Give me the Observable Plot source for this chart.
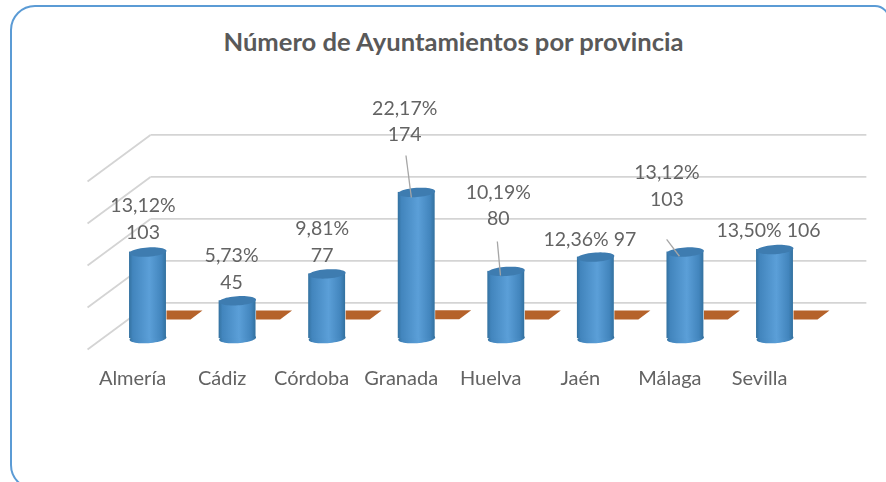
<!DOCTYPE html>
<html lang="es">
<head>
<meta charset="utf-8">
<title>Número de Ayuntamientos por provincia</title>
<script src="https://cdn.jsdelivr.net/npm/d3@7"></script>
<script src="https://cdn.jsdelivr.net/npm/@observablehq/plot@0.6"></script>
<style>
  html, body { margin: 0; padding: 0; background: #fff; overflow: hidden; }
  #page { position: relative; width: 886px; height: 482px; overflow: hidden; }
  #frame { position: absolute; left: 10px; top: 5px; width: 880px; height: 485px; box-sizing: border-box;
           border: 2px solid #5b9bd5; border-radius: 25px 15px 0 25px; }
  #title { position: absolute; left: 0; top: 26px; width: 907px; text-align: center; font: 700 25.6px Lato, sans-serif; color: #595959; }
  #chart { position: absolute; left: 0; top: 0; }
  #chart svg { display: block; filter: blur(0.45px); }
</style>
</head>
<body>
<div id="page">
  <div id="frame"></div>
  <div id="chart"></div>
  <div id="title">Número de Ayuntamientos por provincia</div>
</div>
<script>
const categories = ["Almería", "Cádiz", "Córdoba", "Granada", "Huelva", "Jaén", "Málaga", "Sevilla"];
const counts = [103, 45, 77, 174, 80, 97, 103, 106];
const shares = [13.12, 5.73, 9.81, 22.17, 10.19, 12.36, 13.12, 13.50];
const gridValues = [0, 50, 100, 150, 200];

// placement of each data label relative to the top of its bar, in pixels
const labelOffsets = [[-5, -35], [-6, -34], [-5, -34], [-12, -73], [-8, -68], [-6, -20], [-18.5, -68], [-6.5, -21]];
const labelTwoLines = [true, true, true, true, true, false, true, false];
// leader lines relative to the bar top (index units, value units)
const leaders = [
  {i: 3, dx1: -0.12, dy1: 44, dx2: -0.06, dy2: -6},
  {i: 4, dx1: -0.10, dy1: 35.6, dx2: -0.065, dy2: -4.9},
  {i: 6, dx1: -0.21, dy1: 15, dx2: -0.067, dy2: -5}
];

// chart geometry in data units
const depthX = 0.703, depthY = 55.4;      // offset from the front to the back plane
const frontX = -0.675, backEndX = 8.02;   // extent of the floor and walls
const baseY = 13;                         // bars stand mid-way across the floor
const halfBar = 0.206;

const rows = categories.map((name, i) => ({name, i, count: counts[i], share: shares[i]}));

// tilted ellipse, drawn as a symbol so it sits on the scaled position
const ellipse = {
  draw(ctx) {
    const rx = 18.5, ry = 4.6, t = -0.065;
    for (let k = 0; k <= 48; ++k) {
      const a = k / 48 * 2 * Math.PI, x = rx * Math.cos(a), y = ry * Math.sin(a);
      const px = x * Math.cos(t) - y * Math.sin(t), py = x * Math.sin(t) + y * Math.cos(t);
      k ? ctx.lineTo(px, py) : ctx.moveTo(px, py);
    }
    ctx.closePath();
  }
};
// the flat second series, seen as a parallelogram on the floor
const flat = {
  draw(ctx) {
    ctx.moveTo(-18, -4.5); ctx.lineTo(18, -4.5); ctx.lineTo(6, 4.5); ctx.lineTo(-18, 4.5); ctx.closePath();
  }
};

const defs = () => {
  const d = d3.create("svg:defs");
  const g = d.append("linearGradient").attr("id", "cyl").attr("x1", 0).attr("x2", 1).attr("y1", 0).attr("y2", 0);
  [[0, "#33719f"], [0.1, "#4285bd"], [0.55, "#5b9fd8"], [0.88, "#4285bd"], [1, "#33719f"]]
    .forEach(([o, c]) => g.append("stop").attr("offset", o).attr("stop-color", c));
  return d.node();
};

const plot = Plot.plot({
  width: 886, height: 482,
  marginLeft: 147.5, marginRight: 111.5, marginTop: 181, marginBottom: 133,
  style: {background: "transparent", fontFamily: "Lato, sans-serif", color: "#595959"},
  x: {domain: [0, 7], axis: null},
  y: {domain: [0, 200], axis: null},
  marks: [
    defs,
    // back wall and side wall grid lines
    Plot.link(gridValues, {x1: frontX + depthX, x2: backEndX, y1: d => d + depthY, y2: d => d + depthY, stroke: "#d4d4d4", strokeWidth: 1.8}),
    Plot.link(gridValues, {x1: frontX, x2: frontX + depthX, y1: d => d, y2: d => d + depthY, stroke: "#d4d4d4", strokeWidth: 1.8}),
    // second series
    Plot.dot(rows, {x: "i", y: d => d.share / 100, symbol: flat, fill: "#b5622a", stroke: null, dx: 36.5, dy: -34.5}),
    // cylinders
    Plot.dot(rows, {x: "i", y: baseY, symbol: ellipse, fill: "url(#cyl)", stroke: null}),
    Plot.rectY(rows, {x1: d => d.i - halfBar, x2: d => d.i + halfBar, y1: baseY, y2: d => d.count + baseY, fill: "url(#cyl)"}),
    Plot.dot(rows, {x: "i", y: d => d.count + baseY, symbol: ellipse, fill: "#3e7cb0", stroke: null}),
    // leader lines
    Plot.link(leaders, {
      x1: d => d.i + d.dx1, x2: d => d.i + d.dx2,
      y1: d => counts[d.i] + baseY + d.dy1, y2: d => counts[d.i] + baseY + d.dy2,
      stroke: "#a6a6a6", strokeWidth: 1.3
    }),
    // category labels
    Plot.axisX({ticks: d3.range(categories.length), tickFormat: i => categories[i], anchor: "bottom", tickSize: 0, tickPadding: 21, dx: -15.5, fontSize: 20, fill: "#636363", label: null}),
    // data labels
    ...rows.map((d, k) => Plot.text([d], {
      x: "i", y: r => r.count + baseY,
      text: r => {
        const s = r.share.toFixed(2).replace(".", ",") + "%";
        return labelTwoLines[k] ? s + "\n" + r.count : s + " " + r.count;
      },
      dx: labelOffsets[k][0], dy: labelOffsets[k][1],
      lineHeight: 1.38, fontSize: 19.5, fill: "#636363", lineAnchor: "middle"
    }))
  ]
});
document.getElementById("chart").append(plot);
</script>
</body>
</html>
